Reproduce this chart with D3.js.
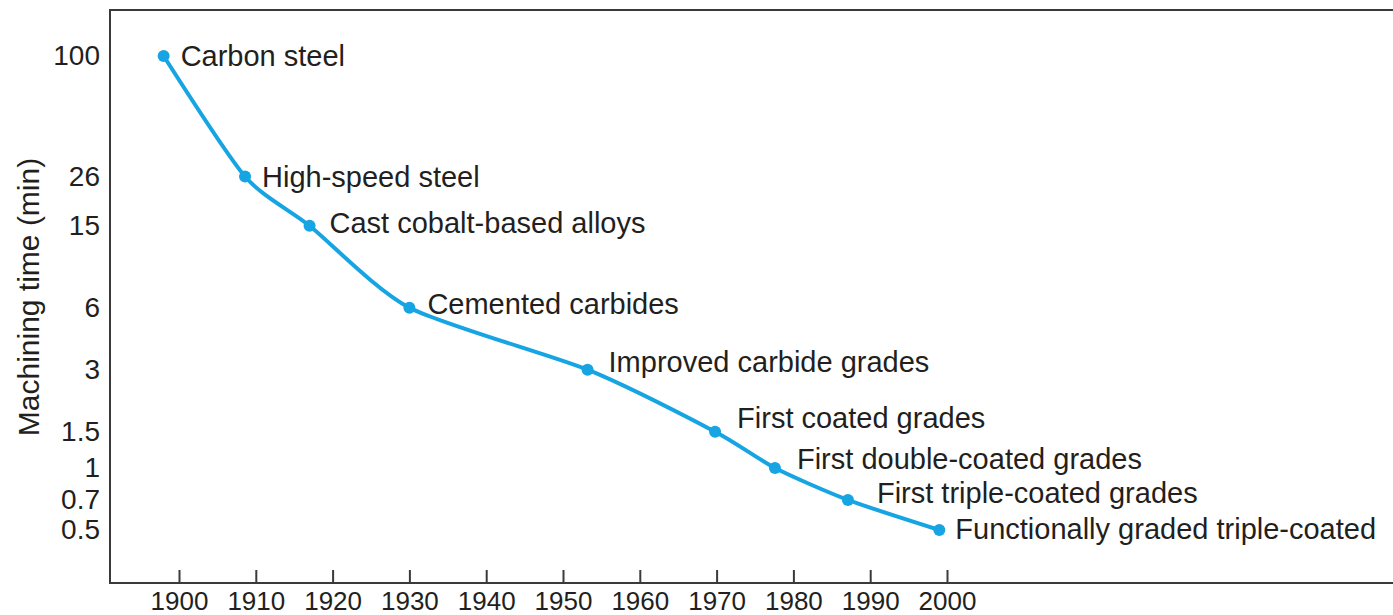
<!DOCTYPE html>
<html>
<head>
<meta charset="utf-8">
<script src="https://cdn.jsdelivr.net/npm/d3@7"></script>
<style>
  body { margin: 0; background: #fff; }
  text { font-family: "Liberation Sans", Arial, sans-serif; fill: #231f20; }
</style>
</head>
<body>
<div id="chart"></div>
<script>
// Tool materials timeline: machining time per era (log scale)

var years = [1898, 1908.6, 1917, 1930, 1953.2, 1969.8, 1977.6, 1987.1, 1999];
var times = [100, 26, 15, 6, 3, 1.5, 1, 0.7, 0.5];
var materials = ["Carbon steel", "High-speed steel", "Cast cobalt-based alloys",
  "Cemented carbides", "Improved carbide grades", "First coated grades",
  "First double-coated grades", "First triple-coated grades",
  "Functionally graded triple-coated"];
var xTicks = [1900, 1910, 1920, 1930, 1940, 1950, 1960, 1970, 1980, 1990, 2000];
var yTicks = [100, 26, 15, 6, 3, 1.5, 1, 0.7, 0.5];

// label offsets (layout only), in px from each dot
var labelDx = [17, 17, 20, 18, 21, 22, 22, 29, 16];
var labelDy = [0, 0, -3, -4, -8, -14, -9, -7, -1];

var W = 1393, H = 615;
var frame = {left: 110, top: 10, right: 1393, bottom: 583};
var blue = "#16a4e3";

var svg = d3.select("#chart").append("svg")
  .attr("width", W)
  .attr("height", H);

var x = d3.scaleLinear().domain([1900, 2000]).range([179, 947]);
var y = d3.scaleLog().domain([0.5, 100]).range([530, 56]);

// frame: left, top, bottom
svg.append("path")
  .attr("d", "M" + frame.right + "," + frame.top + "H" + frame.left +
             "V" + frame.bottom + "H" + frame.right)
  .attr("fill", "none")
  .attr("stroke", "#3a3a3a")
  .attr("stroke-width", 2);

// x axis, ticks point inward
var xAxis = svg.append("g")
  .attr("transform", "translate(0," + frame.bottom + ")")
  .call(d3.axisBottom(x).tickValues(xTicks).tickFormat(d3.format("d"))
    .tickSizeInner(-13).tickSizeOuter(0).tickPadding(9));
xAxis.select(".domain").remove();
xAxis.selectAll(".tick line").attr("stroke", "#3a3a3a").attr("stroke-width", 2);
xAxis.selectAll("text").attr("font-size", 26).style("font-family", "Liberation Sans, Arial, sans-serif").attr("fill", "#231f20");

// y axis, labels only
var yAxis = svg.append("g")
  .attr("transform", "translate(" + frame.left + ",0)")
  .call(d3.axisLeft(y).tickValues(yTicks).tickFormat(function(d){ return String(d); })
    .tickSize(0).tickPadding(10));
yAxis.select(".domain").remove();
yAxis.selectAll("text").attr("font-size", 28).style("font-family", "Liberation Sans, Arial, sans-serif").attr("fill", "#231f20");

svg.append("text")
  .attr("transform", "translate(39,297) rotate(-90)")
  .attr("text-anchor", "middle")
  .attr("font-size", 30)
  .text("Machining time (min)");

var pts = years.map(function(yr, i){ return {year: yr, t: times[i], name: materials[i], i: i}; });

var line = d3.line()
  .x(function(d){ return x(d.year); })
  .y(function(d){ return y(d.t); })
  .curve(d3.curveCardinal.tension(0.3));

svg.append("path")
  .datum(pts)
  .attr("d", line)
  .attr("fill", "none")
  .attr("stroke", blue)
  .attr("stroke-width", 4);

svg.selectAll("circle.pt")
  .data(pts)
  .enter().append("circle")
  .attr("class", "pt")
  .attr("cx", function(d){ return x(d.year); })
  .attr("cy", function(d){ return y(d.t); })
  .attr("r", 6)
  .attr("fill", blue);

svg.selectAll("text.lbl")
  .data(pts)
  .enter().append("text")
  .attr("class", "lbl")
  .attr("x", function(d){ return x(d.year) + labelDx[d.i]; })
  .attr("y", function(d){ return y(d.t) + labelDy[d.i]; })
  .attr("dy", "0.35em")
  .attr("font-size", 29)
  .text(function(d){ return d.name; });
</script>
</body>
</html>
